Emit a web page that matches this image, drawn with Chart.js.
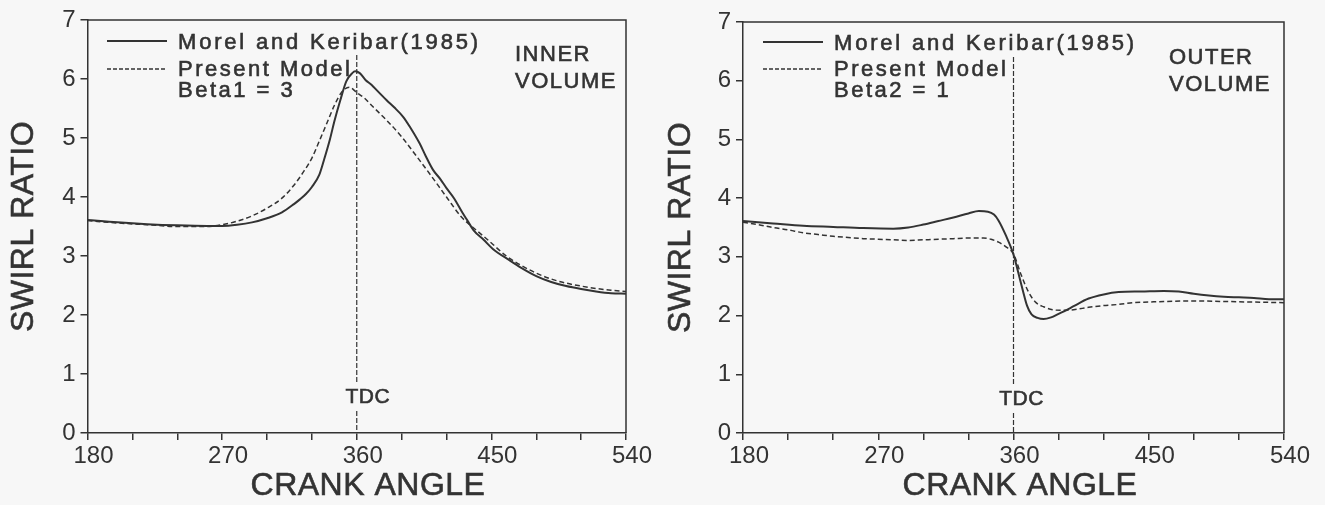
<!DOCTYPE html>
<html lang="en">
<head>
<meta charset="UTF-8">
<title>Swirl ratio - inner and outer volume</title>
<script src="https://cdn.jsdelivr.net/npm/chart.js"></script>
<style>
  body { margin: 0; background: #f7f7f7; width: 1325px; height: 505px; overflow: hidden; }
  .panel { position: absolute; top: 0; }
</style>
</head>
<body>
<canvas id="chartInner" class="panel" style="left:0px" width="662" height="505"></canvas>
<canvas id="chartOuter" class="panel" style="left:662px" width="663" height="505"></canvas>

<script>
  // inner volume - Morel and Keribar (1985)
  const innerMorelAngles = [180, 200, 220, 240, 260, 270, 280, 290, 300, 310, 318, 322, 326, 330, 335, 338, 342, 345, 349, 353, 357, 359, 362, 366, 370, 373, 380, 385, 391, 396, 402, 406, 411, 416, 420, 425, 431, 434, 438, 445, 451, 462, 470, 480, 490, 500, 510, 520, 530, 540];
  const innerMorel = [3.61, 3.57, 3.54, 3.52, 3.51, 3.51, 3.53, 3.57, 3.64, 3.74, 3.88, 3.96, 4.05, 4.17, 4.38, 4.62, 4.97, 5.28, 5.64, 5.96, 6.10, 6.13, 6.10, 5.98, 5.90, 5.82, 5.64, 5.52, 5.36, 5.17, 4.91, 4.70, 4.46, 4.30, 4.15, 3.98, 3.72, 3.60, 3.44, 3.27, 3.12, 2.93, 2.80, 2.66, 2.56, 2.49, 2.44, 2.40, 2.37, 2.36];

  // inner volume - present model, Beta1 = 3
  const innerModelAngles = [180, 200, 220, 240, 260, 270, 280, 290, 300, 310, 318, 325, 330, 335, 340, 345, 350, 355, 360, 365, 370, 380, 390, 400, 410, 420, 430, 437, 445, 450, 460, 470, 480, 490, 500, 510, 520, 530, 540];
  const innerModel = [3.60, 3.56, 3.53, 3.50, 3.50, 3.53, 3.59, 3.68, 3.81, 3.98, 4.20, 4.45, 4.66, 4.95, 5.25, 5.55, 5.78, 5.86, 5.77, 5.68, 5.55, 5.30, 5.02, 4.69, 4.35, 4.00, 3.66, 3.50, 3.33, 3.22, 3.00, 2.84, 2.71, 2.61, 2.54, 2.49, 2.45, 2.42, 2.40];

  // outer volume - Morel and Keribar (1985)
  const outerMorelAngles = [180, 200, 220, 240, 260, 280, 290, 300, 310, 320, 330, 337, 343, 347, 350, 355, 360, 363, 366, 369, 372, 376, 380, 385, 390, 395, 400, 410, 420, 430, 445, 460, 470, 480, 490, 500, 510, 520, 530, 540];
  const outerMorel = [3.61, 3.57, 3.53, 3.51, 3.49, 3.48, 3.50, 3.55, 3.61, 3.67, 3.74, 3.78, 3.77, 3.72, 3.62, 3.36, 3.04, 2.75, 2.45, 2.17, 2.02, 1.96, 1.94, 1.97, 2.03, 2.09, 2.16, 2.29, 2.36, 2.40, 2.41, 2.42, 2.41, 2.37, 2.34, 2.32, 2.31, 2.30, 2.28, 2.28];

  // outer volume - present model, Beta2 = 1
  const outerModelAngles = [180, 190, 200, 210, 220, 230, 240, 250, 260, 270, 280, 290, 300, 310, 320, 330, 340, 345, 350, 355, 360, 365, 370, 375, 380, 386, 392, 400, 410, 420, 430, 440, 450, 460, 480, 500, 520, 540];
  const outerModel = [3.59, 3.55, 3.50, 3.46, 3.41, 3.38, 3.35, 3.33, 3.31, 3.30, 3.29, 3.28, 3.29, 3.30, 3.31, 3.32, 3.32, 3.30, 3.25, 3.17, 3.05, 2.70, 2.40, 2.22, 2.15, 2.10, 2.09, 2.10, 2.14, 2.17, 2.19, 2.22, 2.23, 2.24, 2.25, 2.24, 2.23, 2.22];

  const ink = '#333333';
  const fontFamily = "'Liberation Sans', Arial, sans-serif";

  function toPoints(angles, values) {
    let pts = [];
    for (let i = 0; i < angles.length; i++) {
      pts.push({ x: angles[i], y: values[i] });
    }
    return pts;
  }

  // plotter-style text: fill plus a thin stroke so it looks a bit heavier
  function drawText(ctx, text, x, y, size, spacing, align) {
    ctx.save();
    ctx.font = size + 'px ' + fontFamily;
    ctx.letterSpacing = spacing + 'px';
    ctx.fillStyle = ink;
    ctx.strokeStyle = ink;
    ctx.lineWidth = 0.6;
    ctx.textAlign = align || 'left';
    ctx.textBaseline = 'middle';
    ctx.fillText(text, x, y);
    ctx.strokeText(text, x, y);
    ctx.restore();
  }

  // frame, TDC line, legend and labels drawn on top of the chart
  function decorPlugin(cfg) {
    return {
      id: 'decor',
      afterDraw(chart) {
        const ctx = chart.ctx;
        const area = chart.chartArea;
        const xs = chart.scales.x;

        // top and right border of the box
        ctx.save();
        ctx.strokeStyle = ink;
        ctx.lineWidth = 1.5;
        ctx.beginPath();
        ctx.moveTo(area.left, area.top);
        ctx.lineTo(area.right, area.top);
        ctx.lineTo(area.right, area.bottom);
        ctx.stroke();

        // TDC dashed line with a gap for the label
        const tdcX = xs.getPixelForValue(360);
        ctx.lineWidth = 1.2;
        ctx.setLineDash([5, 2]);
        ctx.beginPath();
        ctx.moveTo(tdcX, cfg.tdcTop);
        ctx.lineTo(tdcX, cfg.tdcY - 14);
        ctx.moveTo(tdcX, cfg.tdcY + 14);
        ctx.lineTo(tdcX, area.bottom);
        ctx.stroke();
        ctx.setLineDash([]);

        // legend samples
        ctx.lineWidth = 2;
        ctx.beginPath();
        ctx.moveTo(cfg.legX, cfg.legY1);
        ctx.lineTo(cfg.legX + 60, cfg.legY1);
        ctx.stroke();
        ctx.lineWidth = 1.5;
        ctx.setLineDash([4, 2]);
        ctx.beginPath();
        ctx.moveTo(cfg.legX, cfg.legY2);
        ctx.lineTo(cfg.legX + 60, cfg.legY2);
        ctx.stroke();
        ctx.restore();

        drawText(ctx, 'Morel and Keribar(1985)', cfg.legX + 71, cfg.legY1 + 2, 22, 2.8);
        drawText(ctx, 'Present Model', cfg.legX + 71, cfg.legY2 + 1, 22, 2.5);
        drawText(ctx, cfg.beta, cfg.legX + 71, cfg.legY2 + 22, 22, 2.5);

        drawText(ctx, cfg.volume, cfg.volX, cfg.volY, 22, 1.5);
        drawText(ctx, 'VOLUME', cfg.volX, cfg.volY + 27, 22, 1.5);

        drawText(ctx, 'TDC', tdcX + cfg.tdcShift, cfg.tdcY, 21, 0.5, 'center');

        // axis titles
        drawText(ctx, 'CRANK ANGLE', cfg.xTitleX, 486, 32, 0.5, 'center');
        ctx.save();
        ctx.translate(cfg.yTitleX, (area.top + area.bottom) / 2);
        ctx.rotate(-Math.PI / 2);
        drawText(ctx, 'SWIRL RATIO', 0, 0, 32, 0.5, 'center');
        ctx.restore();
      }
    };
  }

  function buildChart(canvasId, morelAngles, morel, modelAngles, model, cfg) {
    return new Chart(document.getElementById(canvasId), {
      type: 'line',
      data: {
        datasets: [{
          label: 'Morel and Keribar(1985)',
          data: toPoints(morelAngles, morel),
          borderColor: ink,
          borderWidth: 2,
          pointRadius: 0,
          fill: false,
          cubicInterpolationMode: 'monotone'
        }, {
          label: 'Present Model',
          data: toPoints(modelAngles, model),
          borderColor: ink,
          borderWidth: 1.5,
          borderDash: [5, 3],
          pointRadius: 0,
          fill: false,
          cubicInterpolationMode: 'monotone'
        }]
      },
      options: {
        responsive: false,
        animation: false,
        devicePixelRatio: 1,
        layout: { padding: { left: 0, top: cfg.padTop, right: cfg.padRight, bottom: 0 } },
        plugins: {
          legend: { display: false },
          tooltip: { enabled: false }
        },
        scales: {
          x: {
            type: 'linear',
            min: 180,
            max: 540,
            afterFit: function (scale) { scale.height = 72; },
            ticks: {
              stepSize: 30,
              autoSkip: false,
              maxRotation: 0,
              padding: 2,
              labelOffset: 6,
              color: ink,
              font: { family: fontFamily, size: 24 },
              callback: function (v) { return v % 90 === 0 ? String(v) : ''; }
            },
            grid: { drawOnChartArea: false, drawTicks: true, tickLength: 7, color: ink, lineWidth: 1.5 },
            border: { color: ink, width: 1.5 }
          },
          y: {
            min: 0,
            max: 7,
            afterFit: function (scale) { scale.width = cfg.yWidth; },
            ticks: {
              stepSize: 1,
              padding: 5,
              color: ink,
              font: { family: fontFamily, size: 24 }
            },
            grid: { drawOnChartArea: false, drawTicks: true, tickLength: 7, color: ink, lineWidth: 1.5 },
            border: { color: ink, width: 1.5 }
          }
        }
      },
      plugins: [decorPlugin(cfg)]
    });
  }

  buildChart('chartInner', innerMorelAngles, innerMorel, innerModelAngles, innerModel, {
    padTop: 20, padRight: 36, yWidth: 87.5,
    legX: 107, legY1: 41, legY2: 69, beta: 'Beta1 = 3',
    volume: 'INNER', volX: 515, volY: 55,
    tdcTop: 55, tdcY: 397, tdcShift: 11,
    xTitleX: 368, yTitleX: 24
  });

  buildChart('chartOuter', outerMorelAngles, outerMorel, outerModelAngles, outerModel, {
    padTop: 22, padRight: 41, yWidth: 81,
    legX: 101, legY1: 42, legY2: 69, beta: 'Beta2 = 1',
    volume: 'OUTER', volX: 507, volY: 58,
    tdcTop: 57, tdcY: 399, tdcShift: 8,
    xTitleX: 358, yTitleX: 19
  });
</script>
</body>
</html>
